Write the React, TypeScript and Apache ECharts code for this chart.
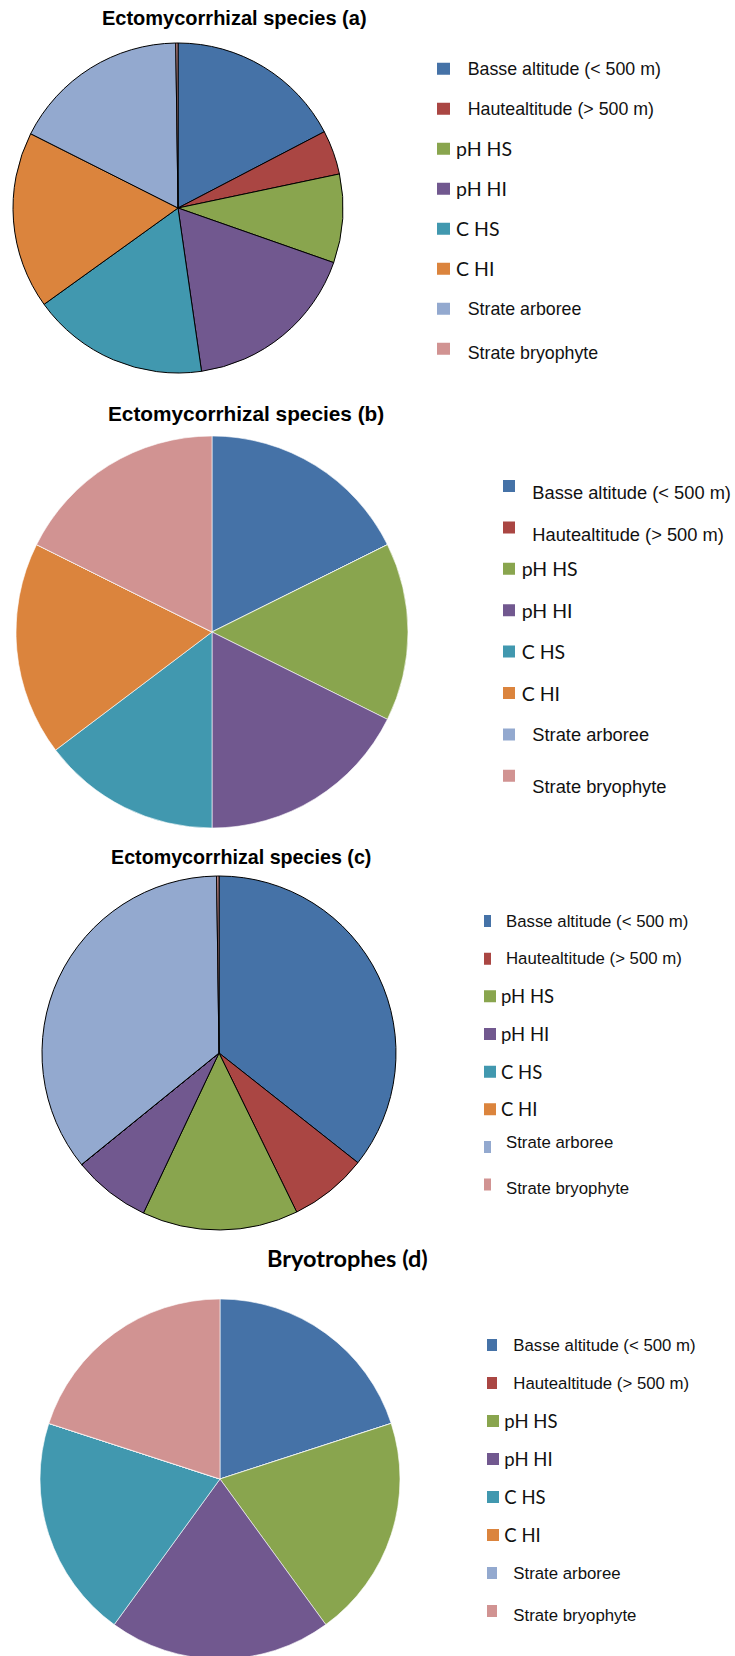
import React, { useEffect, useRef } from "react";
import * as echarts from "echarts";

// ---- data ----
const categories = [
  "Basse altitude (< 500 m)",
  "Hautealtitude (> 500 m)",
  "pH HS",
  "pH HI",
  "C HS",
  "C HI",
  "Strate arboree",
  "Strate bryophyte",
];
const sliceColors = ["#4572A7", "#AA4643", "#89A54E", "#71588F", "#4198AF", "#DB843D", "#93A9CF", "#D19392"];
const titles = [
  "Ectomycorrhizal species (a)",
  "Ectomycorrhizal species (b)",
  "Ectomycorrhizal species (c)",
  "Bryotrophes (d)",
];
const valuesA = [12, 3, 6, 12, 12, 12, 12, 0.15];
const valuesB = [6, 0, 5, 6, 5, 6, 0, 6];
const valuesC = [5, 1, 2, 1, 0, 0, 5, 0.03];
const valuesD = [1, 0, 1, 1, 1, 0, 0, 1];
// legend labels typeset in the Arial-like face (the rest in the Calibri-like face)
const arialLabels = [0, 1, 6, 7];

const ARIAL = "'Liberation Sans', Arial, sans-serif";
const CALIBRI = "Lato, 'Open Sans', sans-serif";
const ITEM_H = 44; // legend slot height; the coloured square sits in its middle

type Panel = {
  values: number[];
  title: string;
  titleLeft: number;
  titleTop: number;
  titleSize: number;
  titleFont: string;
  center: [number, number];
  radius: number;
  border: string;
  borderWidth: number;
  legendLeft: number;
  firstRow: number;
  rowStep: number;
  iconW: number;
  arSize: number;
  ltSize: number;
  arPadLeft: number;
  ltPadLeft: number;
  narrowW: number | null;
  shifts: Record<number, number>;
};

const panels: Panel[] = [
  {
    values: valuesA, title: titles[0], titleLeft: 102, titleTop: 8, titleSize: 20, titleFont: ARIAL,
    center: [178, 208], radius: 165, border: "#000", borderWidth: 1,
    legendLeft: 437, firstRow: 68.7, rowStep: 40, iconW: 13, arSize: 17.8, ltSize: 19.5,
    arPadLeft: 12.7, ltPadLeft: 1, narrowW: null, shifts: { 7: 4 },
  },
  {
    values: valuesB, title: titles[1], titleLeft: 108, titleTop: 403, titleSize: 20.8, titleFont: ARIAL,
    center: [212, 632], radius: 196, border: "#ffffff", borderWidth: 0.6,
    legendLeft: 503, firstRow: 486, rowStep: 41.4, iconW: 12, arSize: 18.3, ltSize: 19.5,
    arPadLeft: 12.3, ltPadLeft: 1.7, narrowW: null, shifts: { 0: 6, 1: 7, 7: 11 },
  },
  {
    values: valuesC, title: titles[2], titleLeft: 111, titleTop: 847, titleSize: 19.7, titleFont: ARIAL,
    center: [219, 1053], radius: 177, border: "#000", borderWidth: 1,
    legendLeft: 484, firstRow: 921, rowStep: 37.66, iconW: 12, arSize: 16.8, ltSize: 18.5,
    arPadLeft: 5, ltPadLeft: 0, narrowW: 7, shifts: { 6: -4, 7: 4 },
  },
  {
    values: valuesD, title: titles[3], titleLeft: 267, titleTop: 1246, titleSize: 23.5, titleFont: CALIBRI,
    center: [220, 1479], radius: 180, border: "#ffffff", borderWidth: 0.6,
    legendLeft: 487, firstRow: 1345, rowStep: 38, iconW: 12, arSize: 16.8, ltSize: 18.5,
    arPadLeft: 9.3, ltPadLeft: 0.3, narrowW: 10, shifts: { 7: 4 },
  },
];

function iconPath(slotW: number, fillW: number) {
  const top = ITEM_H / 2 - 6;
  // a zero-area diagonal fixes the slot's box; the filled square is 12px tall
  return `path://M0,0L${slotW},${ITEM_H}M0,${top}H${fillW}V${top + 12}H0Z`;
}

function buildOption() {
  const title: any[] = [];
  const legend: any[] = [];
  const series: any[] = [];
  panels.forEach((p, pi) => {
    title.push({
      text: p.title,
      left: p.titleLeft,
      top: p.titleTop,
      padding: 0,
      textStyle: { fontFamily: p.titleFont, fontWeight: "bold", fontSize: p.titleSize, color: "#000" },
    });
    const rich: Record<string, any> = {};
    categories.forEach((_, i) => {
      const isAr = arialLabels.includes(i);
      const s = p.shifts[i] || 0;
      const padLeft = isAr ? p.arPadLeft : p.ltPadLeft;
      rich["t" + i] = {
        fontFamily: isAr ? ARIAL : CALIBRI,
        fontSize: isAr ? p.arSize : p.ltSize,
        color: "#111",
        lineHeight: 20,
        padding: s >= 0 ? [2 * s, 0, 0, padLeft] : [0, 0, -2 * s, padLeft],
      };
    });
    legend.push({
      orient: "vertical",
      left: p.legendLeft,
      top: p.firstRow - ITEM_H / 2,
      padding: 0,
      itemGap: p.rowStep - ITEM_H,
      itemWidth: p.iconW,
      itemHeight: ITEM_H,
      selectedMode: false,
      itemStyle: { borderWidth: 0 },
      data: categories.map((name, i) => ({
        name,
        icon: iconPath(p.iconW, p.narrowW && arialLabels.includes(i) ? p.narrowW : p.iconW),
      })),
      formatter: (name: string) => `{t${categories.indexOf(name)}|${name}}`,
      textStyle: { rich },
    });
    series.push({
      type: "pie",
      name: "panel" + pi,
      center: p.center,
      radius: p.radius,
      startAngle: 90,
      clockwise: true,
      silent: true,
      avoidLabelOverlap: false,
      label: { show: false },
      labelLine: { show: false },
      emphasis: { disabled: true },
      itemStyle: { borderColor: p.border, borderWidth: p.borderWidth },
      data: categories.map((name, i) => ({
        name,
        value: p.values[i],
        itemStyle: { color: sliceColors[i] },
      })),
    });
  });
  return {
    animation: false,
    backgroundColor: "#ffffff",
    title,
    legend,
    series,
  };
}

export default function App() {
  const ref = useRef<HTMLDivElement>(null);
  useEffect(() => {
    if (!ref.current) return;
    const chart = echarts.init(ref.current, undefined, { renderer: "svg" });
    chart.setOption(buildOption() as any);
    return () => chart.dispose();
  }, []);
  return (
    <div
      ref={ref}
      style={{ position: "absolute", left: 0, top: 0, width: 735, height: 1656, background: "#fff" }}
    />
  );
}
